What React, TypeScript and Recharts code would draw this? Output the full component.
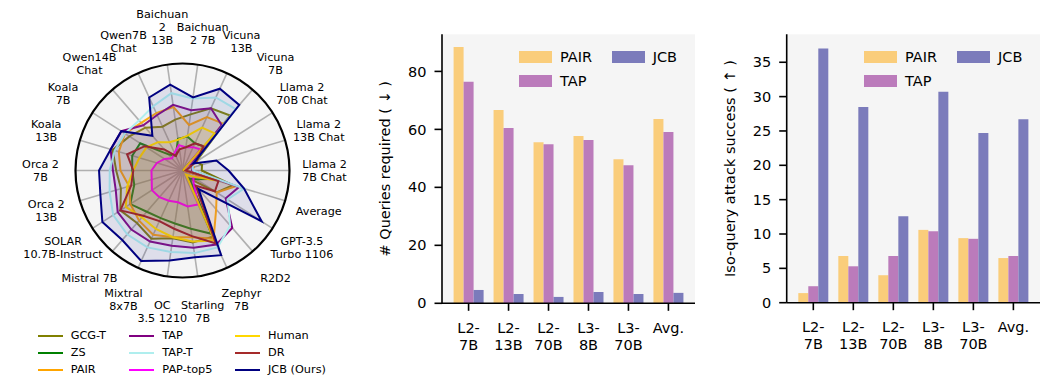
import React from 'react';
import {
  RadarChart,
  Radar,
  PolarGrid,
  PolarAngleAxis,
  PolarRadiusAxis,
  BarChart,
  Bar,
  XAxis,
  YAxis,
  CartesianGrid,
  Legend,
} from 'recharts';

const FONT = '"DejaVu Sans", sans-serif';

// ---- radar: attack success per target model ----
const models = [
  'Llama 2\n7B Chat',
  'Llama 2\n13B Chat',
  'Llama 2\n70B Chat',
  'Vicuna\n7B',
  'Vicuna\n13B',
  'Baichuan\n2 7B',
  'Baichuan\n2\n13B',
  'Qwen7B\nChat',
  'Qwen14B\nChat',
  'Koala\n7B',
  'Koala\n13B',
  'Orca 2\n7B',
  'Orca 2\n13B',
  'SOLAR\n10.7B-Instruct',
  'Mistral 7B',
  'Mixtral\n8x7B',
  'OC\n3.5 1210',
  'Starling\n7B',
  'Zephyr\n7B',
  'R2D2',
  'GPT-3.5\nTurbo 1106',
  'Average',
];

const gcgT = [18, 19, 15, 68, 64, 53, 48, 45, 53, 59, 68, 62, 60, 69, 65, 70, 64, 68, 68, 10, 38, 49];
const zs = [1, 1, 1, 30, 28, 32, 30, 15, 20, 47, 49, 47, 47, 58, 51, 49, 50, 55, 65, 10, 15, 28];
const pair = [9, 11, 10, 58, 55, 43, 60, 59, 59, 64, 62, 58, 52, 58, 62, 66, 63, 63, 70, 48, 38, 52];
const tap = [9, 10, 9, 56, 64, 57, 62, 57, 56, 68, 70, 65, 65, 72, 73, 73, 71, 73, 76, 71, 48, 55];
const tapT = [10, 10, 12, 76, 75, 68, 73, 66, 62, 64, 66, 68, 71, 77, 79, 79, 77, 78, 79, 68, 50, 60];
const papTop5 = [2, 2, 2, 26, 24, 22, 24, 18, 15, 20, 25, 29, 30, 34, 33, 31, 30, 34, 35, 16, 12, 20];
const human = [2, 1, 1, 46, 44, 33, 29, 29, 35, 40, 42, 46, 54, 63, 58, 60, 63, 67, 72, 5, 10, 33];
const dr = [3, 5, 15, 30, 28, 22, 20, 15, 26, 42, 54, 46, 50, 69, 56, 52, 55, 62, 75, 19, 36, 35];
const jcb = [43, 33, 12, 81, 84, 69, 81, 75, 43, 68, 70, 78, 80, 89, 86, 93, 85, 82, 87, 23, 88, 60];

const radarSeries = [
  { key: 'gcgT', name: 'GCG-T', color: '#808000', values: gcgT },
  { key: 'zs', name: 'ZS', color: '#008000', values: zs },
  { key: 'pair', name: 'PAIR', color: '#ffa500', values: pair },
  { key: 'tap', name: 'TAP', color: '#800080', values: tap },
  { key: 'tapT', name: 'TAP-T', color: '#afeeee', values: tapT },
  { key: 'pap', name: 'PAP-top5', color: '#ff00ff', values: papTop5 },
  { key: 'human', name: 'Human', color: '#ffd700', values: human },
  { key: 'dr', name: 'DR', color: '#a52a2a', values: dr },
  { key: 'jcb', name: 'JCB (Ours)', color: '#000080', values: jcb },
];

// models above run counter-clockwise from 3 o'clock; recharts draws clockwise,
// so walk them backwards (keeping Llama 2 7B Chat first, at 0 deg)
const radarOrder = models.map((_, i) => (models.length - i) % models.length);

const radarData = radarOrder.map((idx) => {
  const row: any = { model: models[idx] };
  radarSeries.forEach((s) => (row[s.key] = s.values[idx]));
  return row;
});

// ---- bars ----
const barModels = ['L2-\n7B', 'L2-\n13B', 'L2-\n70B', 'L3-\n8B', 'L3-\n70B', 'Avg.'];
const queriesPair = [88.4, 66.7, 55.6, 57.7, 49.7, 63.6];
const queriesTap = [76.4, 60.5, 54.9, 56.3, 47.6, 59.1];
const queriesJcb = [4.6, 3.2, 2.2, 3.9, 3.2, 3.6];
const queryTicks = [0, 20, 40, 60, 80];
const isoPair = [1.4, 6.8, 4.0, 10.6, 9.4, 6.5];
const isoTap = [2.4, 5.3, 6.8, 10.4, 9.3, 6.8];
const isoJcb = [37.0, 28.5, 12.6, 30.7, 24.7, 26.7];
const isoTicks = [0, 5, 10, 15, 20, 25, 30, 35];

const queryData = barModels.map((model, i) => ({
  model,
  pair: queriesPair[i],
  tap: queriesTap[i],
  jcb: queriesJcb[i],
}));
const isoData = barModels.map((model, i) => ({
  model,
  pair: isoPair[i],
  tap: isoTap[i],
  jcb: isoJcb[i],
}));

const barSeries = [
  { key: 'pair', name: 'PAIR', color: '#facd7b' },
  { key: 'tap', name: 'TAP', color: '#bb7bbb' },
  { key: 'jcb', name: 'JCB', color: '#7b7bbb' },
];

const CX = 182.5;
const CY = 170.5;
const R = 107;
const LABEL_R = 142;

// small vertical nudges so the two Baichuan labels don't collide
const labelNudge: Record<string, number> = {
  'Baichuan\n2\n13B': -3,
  'Baichuan\n2 7B': 4,
};

function AngleTick(props: any) {
  const { payload, x: tx, y: ty } = props;
  let a: number;
  if (payload && typeof payload.coordinate === 'number') {
    a = (payload.coordinate * Math.PI) / 180;
  } else {
    a = Math.atan2(CY - ty, tx - CX);
  }
  const x = CX + LABEL_R * Math.cos(a);
  const y = CY - LABEL_R * Math.sin(a) + (labelNudge[payload.value] || 0);
  const lines = String(payload.value).split('\n');
  const lh = 12.9;
  const y0 = y - ((lines.length - 1) * lh) / 2 + 4;
  return (
    <text textAnchor='middle' fontSize={11.2} fontFamily={FONT} fill='#000'>
      {lines.map((l, i) => (
        <tspan key={i} x={x} y={y0 + i * lh}>
          {l}
        </tspan>
      ))}
    </text>
  );
}

const LEG_COLS = [37.7, 129.3, 235];

function RadarLegend() {
  return (
    <div style={{ position: 'relative', width: 360, height: 54, fontFamily: FONT, fontSize: 11.3, color: '#000' }}>
      {radarSeries.map((s, i) => (
        <div
          key={s.key}
          style={{
            position: 'absolute',
            left: LEG_COLS[Math.floor(i / 3)],
            top: (i % 3) * 17.2,
            height: 17,
            display: 'flex',
            alignItems: 'center',
            whiteSpace: 'nowrap',
          }}
        >
          <span style={{ display: 'inline-block', width: 25, height: 2, background: s.color, marginRight: 8 }} />
          <span>{s.name}</span>
        </div>
      ))}
    </div>
  );
}

function BarTick(props: any) {
  const { x, y, payload } = props;
  const lines = String(payload.value).split('\n');
  return (
    <text textAnchor='middle' fontSize={14.5} fontFamily={FONT} fill='#000'>
      {lines.map((l, i) => (
        <tspan key={i} x={x} y={y + 14 + i * 17}>
          {l}
        </tspan>
      ))}
    </text>
  );
}

function BarLegend({ cols }: { cols: number[] }) {
  return (
    <div style={{ position: 'relative', width: 340, height: 48, fontFamily: FONT, fontSize: 14.5, color: '#000' }}>
      {barSeries.map((s, i) => (
        <div
          key={s.key}
          style={{
            position: 'absolute',
            left: cols[Math.floor(i / 2)],
            top: (i % 2) * 24,
            height: 24,
            display: 'flex',
            alignItems: 'center',
            whiteSpace: 'nowrap',
          }}
        >
          <span style={{ display: 'inline-block', width: 33, height: 11.7, background: s.color, marginRight: 8 }} />
          <span>{s.name}</span>
        </div>
      ))}
    </div>
  );
}

function yLabel(text: string, x: number) {
  return (props: any) => {
    const vb = props.viewBox || { y: 34, height: 269 };
    const cy = vb.y + vb.height / 2;
    return (
      <text
        x={x}
        y={cy}
        transform={`rotate(-90 ${x} ${cy})`}
        textAnchor='middle'
        dominantBaseline='central'
        fontSize={14.5}
        fontFamily={FONT}
        fill='#000'
      >
        {text}
      </text>
    );
  };
}

const axisStroke = { stroke: '#000', strokeWidth: 1.6 };

function GroupedBars({
  data,
  domainMax,
  ticks,
  label,
  labelX,
  yWidth,
  width,
  marginRight,
  marginBottom,
  legendCols,
}: any) {
  return (
    <BarChart
      width={width}
      height={381}
      data={data}
      margin={{ top: 34.3, right: marginRight, bottom: marginBottom, left: 20 }}
      barGap={0}
    >
      <CartesianGrid fill='#f5f5f5' horizontal={false} vertical={false} />
      <XAxis
        dataKey='model'
        interval={0}
        height={60}
        tickSize={7.5}
        tickMargin={8}
        padding={{ left: 6.6, right: 6.6 }}
        axisLine={axisStroke}
        tickLine={axisStroke}
        tick={<BarTick />}
      />
      <XAxis
        xAxisId='top'
        orientation='top'
        dataKey='model'
        height={0}
        tick={false}
        tickLine={false}
        axisLine={axisStroke}
      />
      <YAxis
        domain={[0, domainMax]}
        ticks={ticks}
        width={yWidth}
        tickSize={7.5}
        tickMargin={8}
        axisLine={axisStroke}
        tickLine={axisStroke}
        tick={{ fontSize: 14.5, fill: '#000', fontFamily: FONT }}
        label={yLabel(label, labelX)}
      />
      <YAxis
        yAxisId='right'
        orientation='right'
        domain={[0, 1]}
        width={0}
        tick={false}
        tickLine={false}
        axisLine={axisStroke}
      />
      <Legend
        layout='horizontal'
        verticalAlign='middle'
        align='center'
        content={() => <BarLegend cols={legendCols} />}
        wrapperStyle={{ position: 'absolute', top: 44.8, left: 0, width: 340, height: 48 }}
      />
      {barSeries.map((s) => (
        <Bar key={s.key} dataKey={s.key} name={s.name} fill={s.color} barSize={10} isAnimationActive={false} />
      ))}
    </BarChart>
  );
}

export default function App() {
  return (
    <div style={{ position: 'absolute', left: 0, top: 0, width: 1041, height: 381, background: '#fff', overflow: 'hidden' }}>
      <div
        style={{
          position: 'absolute',
          left: CX - R,
          top: CY - R,
          width: 2 * R,
          height: 2 * R,
          borderRadius: '50%',
          background: '#f5f5f5',
        }}
      />
      <div style={{ position: 'absolute', left: 0, top: 0 }}>
        <RadarChart
          width={360}
          height={381}
          data={radarData}
          cx={CX}
          cy={CY}
          outerRadius={R}
          startAngle={0}
          endAngle={-360}
          margin={{ top: 0, right: 0, bottom: 0, left: 0 }}
        >
          <PolarGrid gridType='circle' polarRadius={[0]} stroke='#b0b0b0' strokeWidth={1.6} />
          <PolarGrid gridType='circle' polarRadius={[R]} radialLines={false} stroke='#000' strokeWidth={2.2} />
          <PolarAngleAxis dataKey='model' axisLine={false} tickLine={false} tick={(p: any) => <AngleTick {...p} />} />
          <PolarRadiusAxis domain={[0, 100]} tick={false} axisLine={false} />
          {radarSeries.map((s) => (
            <Radar
              key={s.key}
              dataKey={s.key}
              name={s.name}
              stroke={s.color}
              strokeWidth={2}
              fill={s.color}
              fillOpacity={0.09}
              dot={false}
              isAnimationActive={false}
            />
          ))}
          <Legend
            layout='horizontal'
            verticalAlign='middle'
            align='center'
            content={() => <RadarLegend />}
            wrapperStyle={{ position: 'absolute', top: 327, left: 0, width: 360, height: 54 }}
          />
        </RadarChart>
      </div>
      <div style={{ position: 'absolute', left: 360, top: 0 }}>
        <GroupedBars
          data={queryData}
          domainMax={92.8}
          ticks={queryTicks}
          label='# Queries required ( ↓ )'
          labelX={25}
          yWidth={62}
          width={340}
          marginRight={5}
          marginBottom={17.7}
          legendCols={[159, 251.7]}
        />
      </div>
      <div style={{ position: 'absolute', left: 700, top: 0 }}>
        <GroupedBars
          data={isoData}
          domainMax={39.07}
          ticks={isoTicks}
          label='Iso-query attack success ( ↑ )'
          labelX={30}
          yWidth={66.7}
          width={341}
          marginRight={1}
          marginBottom={18.3}
          legendCols={[164, 257]}
        />
      </div>
    </div>
  );
}
